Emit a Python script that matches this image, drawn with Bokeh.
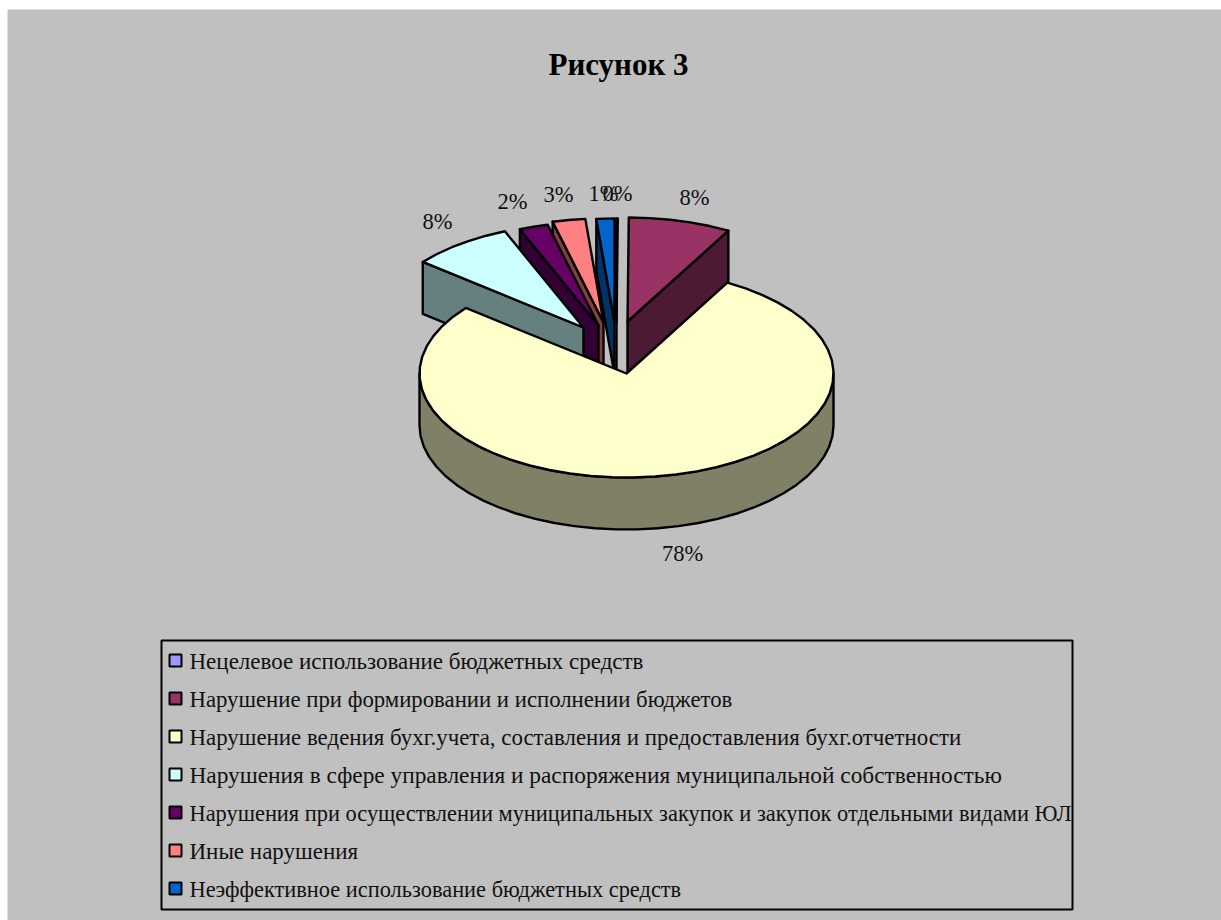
import math
from bokeh.plotting import figure
from bokeh.models import Range1d, ColumnDataSource
from bokeh.core.properties import value
from bokeh.embed import file_html
from bokeh.resources import INLINE

# ---- data ----
categories = [
    "Нецелевое использование бюджетных средств",
    "Нарушение при формировании и исполнении бюджетов",
    "Нарушение ведения бухг.учета, составления и предоставления бухг.отчетности",
    "Нарушения в сфере управления и распоряжения муниципальной собственностью",
    "Нарушения при осуществлении муниципальных закупок и закупок отдельными видами ЮЛ",
    "Иные нарушения",
    "Неэффективное использование бюджетных средств",
]
shares = [0.1, 8.0, 77.75, 7.95, 2.25, 2.55, 1.4]
title = "Рисунок 3"

# ---- styles and layout ----
colors = ["#9999FF", "#993366", "#FFFFCC", "#CCFFFF", "#660066", "#FF8080", "#0066CC"]
darks = ["#4D4D80", "#4D1A33", "#808066", "#668080", "#330033", "#804040", "#003366"]
CX, CY, RX, RY, DEPTH = 626, 373, 207, 104, 52
explode_x = [-10, 1, 0, -43, -28, -23, -12]
explode_y = [-51, -52, 0, -46, -48, -51, -51]
label_pos = [(617, 193), (694, 197), (682, 553), (437, 221), (512, 201), (558, 194), (603, 193)]
legend_sizes = ["23px", "22.75px", "22.9px", "23.35px", "22.4px", "23px", "22.4px"]
SERIF = value("Liberation Serif")
GREY = "#C0C0C0"

p = figure(width=1221, height=920, x_range=Range1d(0, 1221), y_range=Range1d(920, 0),
           toolbar_location=None, output_backend="svg", min_border=0,
           background_fill_color="white", border_fill_color="white", outline_line_color=None)
p.axis.visible = False
p.grid.visible = False
p.styles = {"position": "absolute", "left": "0px", "top": "0px"}
p.quad(left=[7], right=[1221], top=[9], bottom=[920], fill_color=GREY, line_color=None)


def rim(a, ox, oy, dz=0):
    t = math.radians(a)
    return CX + ox + RX * math.sin(t), CY + oy - RY * math.cos(t) + dz


def draw(xs, ys, fill):
    p.patch(xs, ys, fill_color=fill, line_color="black", line_width=2.4, line_join="round")


# angular extents
ang = [0.0]
for s in shares:
    ang.append(ang[-1] + s * 3.6)


def arc_points(a0, a1, ox, oy, dz=0, step=6.0):
    n = max(2, int(abs(a1 - a0) / step) + 1)
    pts = [rim(a0 + (a1 - a0) * k / n, ox, oy, dz) for k in range(n + 1)]
    return [q[0] for q in pts], [q[1] for q in pts]


# exploded wedges, right to left, then main slice on top
for i in [1, 0, 6, 5, 4, 3]:
    ox, oy = explode_x[i], explode_y[i]
    a0, a1 = ang[i], ang[i + 1]
    ax, ay = CX + ox, CY + oy
    edge = a1 if i == 1 else a0
    ex, ey = rim(edge, ox, oy)
    draw([ax, ex, ex, ax], [ay, ey, ey + DEPTH, ay + DEPTH], darks[i])
    xs, ys = arc_points(a0, a1, ox, oy)
    draw([ax] + xs, [ay] + ys, colors[i])

# main slice: rim wall then top
a0, a1 = ang[2], ang[3]
xt, yt = arc_points(90, 270, 0, 0)
xb, yb = arc_points(270, 90, 0, 0, DEPTH)
draw(xt + xb, yt + yb, darks[2])
xs, ys = arc_points(a0, a1, 0, 0)
draw([CX] + xs, [CY] + ys, colors[2])

# percentage labels
p.text(x=[q[0] for q in label_pos], y=[q[1] for q in label_pos],
       text=[f"{round(s)}%" for s in shares], text_font=SERIF, text_font_size="22.5px",
       text_color="#111111", text_align="center", text_baseline="middle")

# title
p.text(x=[618], y=[64], text=[title], text_font=SERIF, text_font_size="31px",
       text_font_style="bold", text_color="black", text_align="center", text_baseline="middle")

# legend
LX0, LX1, LY0, LY1 = 161, 1072, 640, 909
p.quad(left=[LX0], right=[LX1], top=[LY0], bottom=[LY1], fill_color=GREY, line_color="black", line_width=2)
rows = [660 + 38 * k for k in range(len(categories))]
p.rect(x=[175] * len(rows), y=rows, width=12, height=12, fill_color=colors, line_color="black", line_width=2)
legend_src = ColumnDataSource(dict(x=[189] * len(rows), y=[r + 0.6 for r in rows], text=categories, size=legend_sizes))
p.text(x="x", y="y", text="text", text_font_size="size", source=legend_src, text_font=SERIF,
       text_color="#111111", text_align="left", text_baseline="middle")

open("out.html", "w").write(file_html(p, INLINE))
